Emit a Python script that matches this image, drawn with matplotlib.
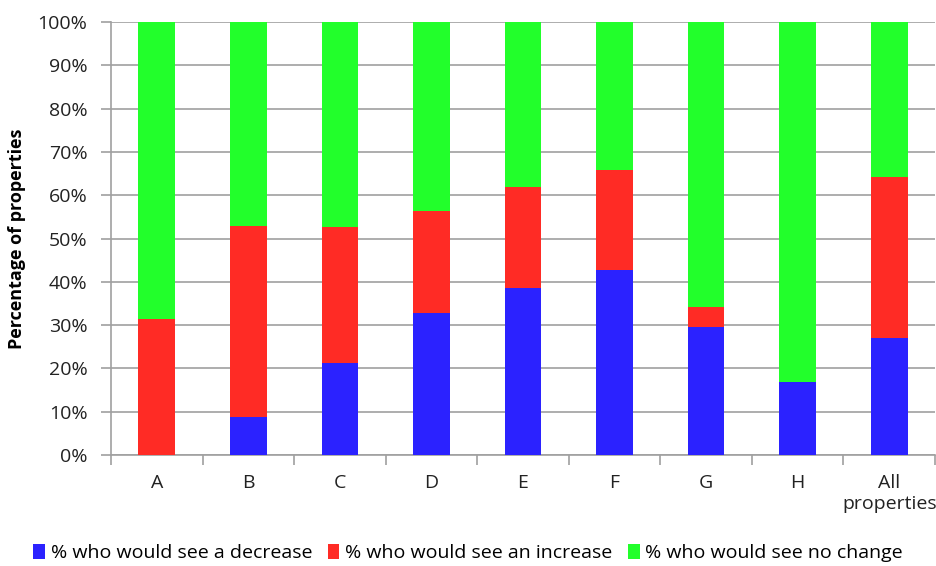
import numpy as np
import matplotlib.pyplot as plt

plt.rcParams['font.family'] = ['Open Sans', 'DejaVu Sans']

# Share of properties per area (%)
categories = ['A', 'B', 'C', 'D', 'E', 'F', 'G', 'H', 'All\nproperties']
decrease = [0.0, 8.8, 21.2, 32.8, 38.6, 42.7, 29.6, 16.9, 27.0]
increase = [31.4, 44.1, 31.5, 23.6, 23.3, 23.1, 4.6, 0.0, 37.2]
no_change = [100 - d - i for d, i in zip(decrease, increase)]

blue = '#2B22FF'
red = '#FF2B25'
green = '#22FF2B'
grid_grey = '#A0A0A0'
txt = '#222222'

fig = plt.figure(figsize=(9.36, 5.66), dpi=100)
ax = fig.add_axes([111 / 936, 1 - 455 / 566, 824 / 936, 433 / 566])

x = np.arange(len(categories))
w = 0.4
ax.bar(x, decrease, w, color=blue, label='% who would see a decrease', zorder=3)
ax.bar(x, increase, w, bottom=decrease, color=red,
       label='% who would see an increase', zorder=3)
bottom2 = np.array(decrease) + np.array(increase)
ax.bar(x, no_change, w, bottom=bottom2, color=green,
       label='% who would see no change', zorder=3)

ax.set_xlim(-0.5, len(categories) - 0.5)
ax.set_ylim(0, 100)
ax.set_yticks(np.arange(0, 101, 10))
ax.set_yticklabels([f'{v}%' for v in range(0, 101, 10)], fontsize=14, color=txt)
ax.yaxis.grid(True, color=grid_grey, linewidth=1.2, zorder=0)

ax.set_xticks(x)
ax.set_xticklabels(categories, fontsize=14, color=txt, linespacing=1.15)
ax.set_xticks(np.arange(-0.5, len(categories), 1), minor=True)
ax.tick_params(axis='x', which='major', length=0, pad=14)
ax.tick_params(axis='x', which='minor', length=7, color=grid_grey, width=1.2)
ax.tick_params(axis='y', length=7, color=grid_grey, width=1.2, pad=10)

for side in ['top', 'right']:
    ax.spines[side].set_visible(False)
for side in ['left', 'bottom']:
    ax.spines[side].set_color(grid_grey)
    ax.spines[side].set_linewidth(1.2)

ax.set_ylabel('Percentage of properties', fontsize=13, fontweight='bold', labelpad=8)

ax.legend(loc='center', bbox_to_anchor=(0.5, 1 - 553 / 566),
          bbox_transform=fig.transFigure, ncol=3, frameon=False,
          fontsize=14, handlelength=0.6, handleheight=0.8, handletextpad=0.3,
          columnspacing=0.8)

fig.savefig('out.png', dpi=100)
